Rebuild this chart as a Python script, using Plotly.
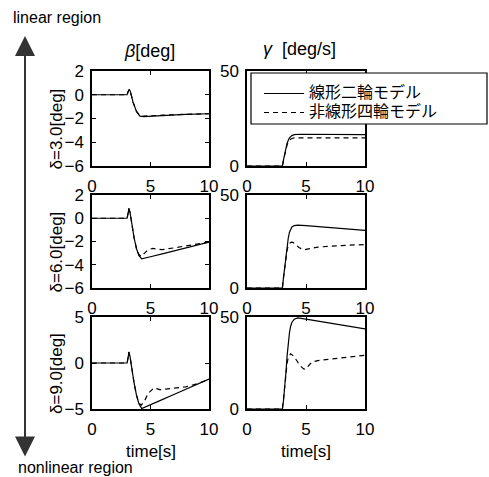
import plotly.graph_objects as go
from plotly.subplots import make_subplots

W, H = 489, 477

# ---------------- data ----------------
legend_names = ["線形二輪モデル", "非線形四輪モデル"]
row_labels = ["δ=3.0[deg]", "δ=6.0[deg]", "δ=9.0[deg]"]
col_titles = ["<i>β</i>[deg]", "<i>γ</i>  [deg/s]"]

# beta, delta = 3.0
b1_lin_t = [0, 3.0, 3.1, 3.2, 3.3, 3.5, 3.8, 4.1, 4.4, 5, 6, 8, 10]
b1_lin = [0, 0, 0.3, 0.45, 0.2, -0.6, -1.4, -1.8, -1.85, -1.8, -1.75, -1.65, -1.6]
b1_non_t = [0, 3.0, 3.1, 3.2, 3.3, 3.5, 3.8, 4.1, 4.4, 5, 6, 8, 10]
b1_non = [0, 0, 0.3, 0.45, 0.2, -0.6, -1.4, -1.78, -1.8, -1.76, -1.72, -1.65, -1.6]

# beta, delta = 6.0
b2_lin_t = [0, 3.0, 3.1, 3.15, 3.25, 3.4, 3.6, 3.8, 4.0, 4.25, 4.5, 5, 6, 7, 8, 9, 10]
b2_lin = [0, 0, 0.5, 0.85, 0.5, -0.5, -1.7, -2.6, -3.2, -3.5, -3.42, -3.31, -3.06, -2.81, -2.56, -2.3, -2.05]
b2_non_t = [0, 3.0, 3.1, 3.15, 3.25, 3.4, 3.6, 3.8, 4.0, 4.2, 4.5, 4.8, 5.2, 5.6, 6, 7, 8, 9, 10]
b2_non = [0, 0, 0.5, 0.85, 0.5, -0.5, -1.7, -2.6, -3.1, -3.3, -3.0, -2.7, -2.6, -2.65, -2.7, -2.55, -2.4, -2.22, -2.05]

# beta, delta = 9.0
b3_lin_t = [0, 3.0, 3.1, 3.15, 3.25, 3.4, 3.6, 3.8, 4.0, 4.25, 4.5, 5, 6, 7, 8, 9, 10]
b3_lin = [0, 0, 0.7, 1.2, 0.7, -0.6, -2.2, -3.5, -4.4, -4.95, -4.82, -4.53, -3.98, -3.42, -2.86, -2.31, -1.75]
b3_non_t = [0, 3.0, 3.1, 3.15, 3.25, 3.4, 3.6, 3.8, 4.0, 4.2, 4.5, 4.8, 5.3, 5.8, 6.3, 7, 8, 9, 10]
b3_non = [0, 0, 0.7, 1.2, 0.7, -0.6, -2.2, -3.5, -4.3, -4.6, -4.1, -3.3, -2.7, -2.9, -2.85, -2.75, -2.6, -2.25, -1.8]

# gamma, delta = 3.0
g1_lin_t = [0, 3.0, 3.1, 3.2, 3.3, 3.4, 3.5, 3.6, 3.8, 4.0, 4.5, 6, 10]
g1_lin = [0, 0, 3.5, 7, 9.8, 12, 13.6, 14.8, 16.0, 16.5, 16.7, 16.6, 16.5]
g1_non_t = [0, 3.0, 3.1, 3.2, 3.3, 3.4, 3.5, 3.6, 3.8, 4.0, 4.5, 6, 10]
g1_non = [0, 0, 3.3, 6.5, 9.2, 11.2, 12.6, 13.6, 14.5, 14.8, 14.8, 14.8, 14.8]

# gamma, delta = 6.0
g2_lin_t = [0, 3.0, 3.1, 3.2, 3.3, 3.4, 3.5, 3.6, 3.7, 3.8, 4.0, 4.3, 5, 10]
g2_lin = [0, 0, 6, 12, 18, 23, 27, 30, 31.8, 32.8, 33.5, 33.8, 33.5, 31.0]
g2_non_t = [0, 3.0, 3.1, 3.2, 3.3, 3.4, 3.5, 3.6, 3.75, 3.9, 4.1, 4.4, 4.7, 4.9, 5.2, 5.6, 6, 8, 10]
g2_non = [0, 0, 6, 11.5, 16.5, 20.5, 22.8, 24, 24.6, 24.5, 23.5, 21.8, 20.8, 20.6, 21.0, 21.7, 22, 22.8, 23.4]

# gamma, delta = 9.0
g3_lin_t = [0, 3.0, 3.1, 3.2, 3.3, 3.4, 3.5, 3.6, 3.7, 3.8, 4.0, 4.3, 5, 6, 8, 10]
g3_lin = [0, 0, 5, 11, 20, 29, 36, 41.5, 45, 47, 48.8, 49.5, 48.8, 47.7, 45.6, 43.5]
g3_non_t = [0, 3.0, 3.1, 3.2, 3.3, 3.4, 3.5, 3.6, 3.7, 3.85, 4.0, 4.2, 4.5, 4.8, 4.95, 5.2, 5.5, 6, 8, 10]
g3_non = [0, 0, 6, 13, 20, 25, 28, 29.5, 30, 29.3, 28.2, 26.5, 23.5, 21.8, 21.6, 23.5, 25.5, 26.3, 27.8, 29.2]

x_ticks = [0, 5, 10]
beta_ticks_a = [-6, -4, -2, 0, 2]
beta_ticks_b = [-5, 0, 5]
gamma_ticks = [0, 50]

panels = [
    (1, 1, b1_lin_t, b1_lin, b1_non_t, b1_non),
    (1, 2, g1_lin_t, g1_lin, g1_non_t, g1_non),
    (2, 1, b2_lin_t, b2_lin, b2_non_t, b2_non),
    (2, 2, g2_lin_t, g2_lin, g2_non_t, g2_non),
    (3, 1, b3_lin_t, b3_lin, b3_non_t, b3_non),
    (3, 2, g3_lin_t, g3_lin, g3_non_t, g3_non),
]

# ---------------- figure ----------------
NUM_FONT = "Liberation Sans, Arial, sans-serif"
JP_FONT = "Noto Sans CJK JP, sans-serif"

fig = make_subplots(rows=3, cols=2)

def legend_label(name):
    return f'<span style="font-size:16px">{name}</span>'

for i, (r, c, tl, yl, tn, yn) in enumerate(panels):
    fig.add_trace(go.Scatter(x=tl, y=yl, mode="lines", name=legend_label(legend_names[0]),
                             line=dict(color="black", width=1.2),
                             showlegend=(i == 0), legendrank=1), row=r, col=c)
    fig.add_trace(go.Scatter(x=tn, y=yn, mode="lines", name=legend_label(legend_names[1]),
                             line=dict(color="black", width=1.2, dash="5px,4px"),
                             showlegend=(i == 0), legendrank=2), row=r, col=c)

def px_x(p):
    return p / W

def px_y(p):
    return 1 - p / H

col_px = [(92, 209), (247, 365)]
row_px = [(71, 166), (195, 288), (317, 409)]

axis_common = dict(showline=True, linecolor="black", linewidth=1.5, mirror="ticks",
                   ticks="inside", ticklen=4, tickwidth=1, tickcolor="black",
                   showgrid=False, zeroline=False, automargin=False,
                   tickfont=dict(family=NUM_FONT, size=17, color="black"))

for r in range(3):
    for c in range(2):
        idx = r * 2 + c + 1
        xa = "xaxis" if idx == 1 else f"xaxis{idx}"
        ya = "yaxis" if idx == 1 else f"yaxis{idx}"
        x0, x1 = col_px[c]
        y0, y1 = row_px[r]
        if c == 0:
            if r < 2:
                yr, yt = [-6, 2], beta_ticks_a
            else:
                yr, yt = [-5, 5], beta_ticks_b
        else:
            yr, yt = [0, 50], gamma_ticks
        fig.update_layout({
            xa: dict(domain=[px_x(x0), px_x(x1)], range=[0, 10], tickvals=x_ticks,
                     ticklabelstandoff=4, **axis_common),
            ya: dict(domain=[px_y(y1), px_y(y0)], range=yr, tickvals=yt,
                     ticklabelstandoff=3, **axis_common),
        })

def text_ann(x, y, text, size, angle=0, xanchor="center"):
    return dict(x=px_x(x), y=px_y(y), xref="paper", yref="paper",
                xanchor=xanchor, yanchor="middle", text=text, textangle=angle,
                showarrow=False, font=dict(family=NUM_FONT, size=size, color="black"))

annotations = []
# column titles
annotations.append(text_ann(149, 51, col_titles[0], 18))
annotations.append(text_ann(299, 49, col_titles[1], 18))
# row labels
for r, lab in enumerate(row_labels):
    cy = (row_px[r][0] + row_px[r][1]) / 2 + 11
    annotations.append(text_ann(56, cy, lab, 17, angle=-90))
# x axis titles
for c in range(2):
    cx = (col_px[c][0] + col_px[c][1]) / 2
    annotations.append(text_ann(cx, 451, "time[s]", 17))
# region labels
annotations.append(text_ann(11, 18, "linear region", 16, xanchor="left"))
annotations.append(text_ann(16, 467, "nonlinear region", 16, xanchor="left"))
# double-headed arrow
annotations.append(dict(x=px_x(25), y=px_y(36), xref="paper", yref="paper",
                        ax=0, ay=422, axref="pixel", ayref="pixel",
                        text="", showarrow=True, arrowhead=2, startarrowhead=2,
                        arrowside="end+start", arrowsize=2, startarrowsize=2,
                        arrowwidth=2, arrowcolor="#333333"))

fig.update_layout(
    width=W, height=H,
    margin=dict(l=0, r=0, t=0, b=0, pad=0, autoexpand=False),
    paper_bgcolor="white", plot_bgcolor="white",
    annotations=annotations,
    shapes=[dict(type="rect", xref="paper", yref="paper", layer="above",
                 x0=px_x(251), x1=px_x(487), y0=px_y(124), y1=px_y(73),
                 fillcolor="white", line=dict(color="black", width=1.2))],
    legend=dict(x=px_x(259), y=px_y(79), xanchor="left", yanchor="top",
                bgcolor="rgba(0,0,0,0)", borderwidth=0, itemwidth=40,
                tracegroupgap=0,
                font=dict(family=JP_FONT, size=12, color="black")),
    showlegend=True,
)

fig.write_html("out.html",
               config={"displayModeBar": False},
               post_script="document.body.style.margin='0';document.body.style.padding='0';")
